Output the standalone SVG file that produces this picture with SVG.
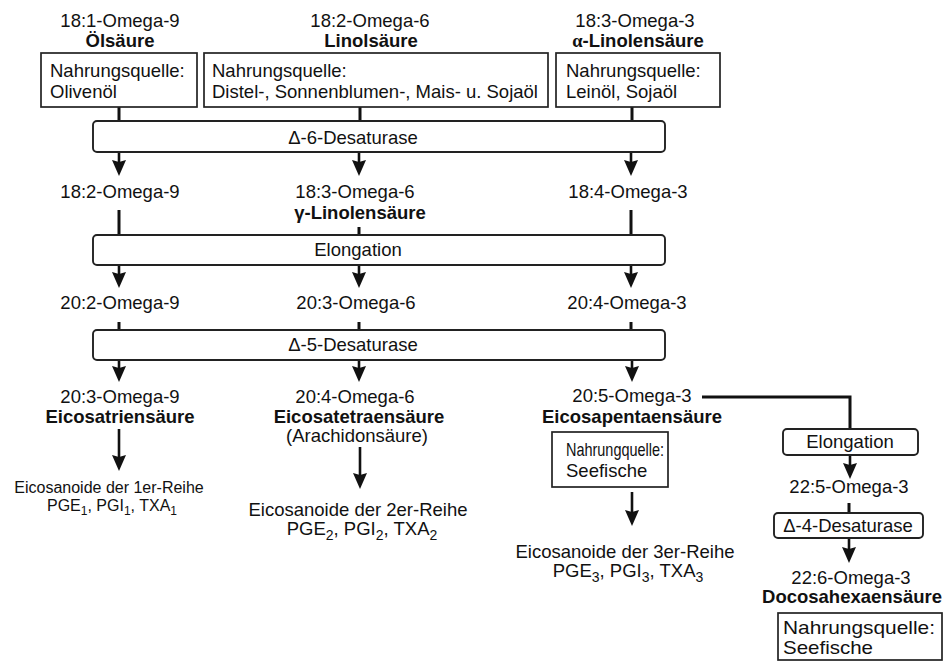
<svg xmlns="http://www.w3.org/2000/svg" width="943" height="666" viewBox="0 0 943 666">
  <defs>
    <marker id="head" viewBox="0 0 16 14" markerWidth="16" markerHeight="14" refX="5" refY="7" orient="auto" markerUnits="userSpaceOnUse">
      <path d="M0,0 L16,7 L0,14 L2,7 Z" fill="#111"/>
    </marker>
    <style>
      text { font-family: "Liberation Sans", Arial, Helvetica, sans-serif; font-size: 18.5px; fill: #111; }
      .c { text-anchor: middle; }
      .b { font-weight: bold; }
      .s { font-size: 16px; }
      .greek { font-family: "Liberation Serif", "Times New Roman", serif; }
      .src { fill: #fff; stroke: #222; stroke-width: 1.7; }
      .enz { fill: #fff; stroke: #222; stroke-width: 1.9; }
      .ln { stroke: #111; stroke-width: 3; fill: none; }
      .arr { stroke: #111; stroke-width: 2.6; fill: none; marker-end: url(#head); }
    </style>
  </defs>
  <rect width="943" height="666" fill="#fff"/>

  <!-- connectors -->
  <g id="connectors">
    <!-- source boxes to delta-6 desaturase -->
    <line class="ln" x1="119" y1="107" x2="119" y2="122"/>
    <line class="ln" x1="360" y1="107" x2="360" y2="122"/>
    <line class="ln" x1="632" y1="107" x2="632" y2="122"/>
    <!-- delta-6 desaturase products -->
    <line class="arr" x1="119" y1="152" x2="119" y2="165"/>
    <line class="arr" x1="359" y1="152" x2="359" y2="165"/>
    <line class="arr" x1="631" y1="152" x2="631" y2="165"/>
    <!-- into elongation -->
    <line class="ln" x1="119" y1="210" x2="119" y2="236"/>
    <line class="ln" x1="359" y1="227" x2="359" y2="236"/>
    <line class="ln" x1="631" y1="210" x2="631" y2="236"/>
    <!-- elongation products -->
    <line class="arr" x1="119" y1="265" x2="119" y2="277"/>
    <line class="arr" x1="359" y1="265" x2="359" y2="277"/>
    <line class="arr" x1="631" y1="265" x2="631" y2="277"/>
    <!-- into delta-5 desaturase -->
    <line class="ln" x1="119" y1="322" x2="119" y2="331"/>
    <line class="ln" x1="359" y1="322" x2="359" y2="331"/>
    <line class="ln" x1="631" y1="322" x2="631" y2="331"/>
    <!-- delta-5 desaturase products -->
    <line class="arr" x1="119" y1="360" x2="119" y2="371"/>
    <line class="arr" x1="359" y1="360" x2="359" y2="371"/>
    <line class="arr" x1="632" y1="360" x2="632" y2="371"/>
    <!-- to eicosanoids -->
    <line class="arr" x1="119" y1="429" x2="119" y2="460"/>
    <line class="arr" x1="360" y1="447" x2="360" y2="478"/>
    <line class="arr" x1="632" y1="492" x2="632" y2="515"/>
    <!-- EPA branch to DHA -->
    <polyline class="ln" points="702,397 850,397 850,430"/>
    <line class="arr" x1="850" y1="455" x2="850" y2="468"/>
    <line class="ln" x1="849" y1="503" x2="849" y2="514"/>
    <line class="arr" x1="849" y1="538" x2="849" y2="552"/>
  </g>

  <!-- omega-9 column -->
  <g id="oleic">
    <text class="c" x="120" y="27">18:1-Omega-9</text>
    <text class="c b" x="120" y="47">Ölsäure</text>
    <rect class="src" x="41" y="53" width="156" height="54"/>
    <text x="50" y="77">Nahrungsquelle:</text>
    <text x="50" y="98">Olivenöl</text>
  </g>
  <g id="omega9-18-2">
    <text class="c" x="120" y="198">18:2-Omega-9</text>
  </g>
  <g id="omega9-20-2">
    <text class="c" x="120" y="309">20:2-Omega-9</text>
  </g>
  <g id="eicosatrienoic">
    <text class="c" x="120" y="403">20:3-Omega-9</text>
    <text class="c b" x="120" y="423">Eicosatriensäure</text>
  </g>
  <g id="eicosanoids-1">
    <text class="c s" x="109" y="493">Eicosanoide der 1er-Reihe</text>
    <text class="c s" x="112" y="511">PGE<tspan font-size="12" dy="4">1</tspan><tspan dy="-4">, PGI</tspan><tspan font-size="12" dy="4">1</tspan><tspan dy="-4">, TXA</tspan><tspan font-size="12" dy="4">1</tspan></text>
  </g>

  <!-- omega-6 column -->
  <g id="linoleic">
    <text class="c" x="370" y="27">18:2-Omega-6</text>
    <text class="c b" x="371" y="47">Linolsäure</text>
    <rect class="src" x="204" y="53" width="344" height="54"/>
    <text x="212" y="77">Nahrungsquelle:</text>
    <text x="212" y="98">Distel-, Sonnenblumen-, Mais- u. Sojaöl</text>
  </g>
  <g id="gamma-linolenic">
    <text class="c" x="355" y="198">18:3-Omega-6</text>
    <text class="c b" x="360" y="219">γ-Linolensäure</text>
  </g>
  <g id="omega6-20-3">
    <text class="c" x="356" y="309">20:3-Omega-6</text>
  </g>
  <g id="arachidonic">
    <text class="c" x="355" y="403">20:4-Omega-6</text>
    <text class="c b" x="359" y="423">Eicosatetraensäure</text>
    <text class="c" x="357" y="442">(Arachidonsäure)</text>
  </g>
  <g id="eicosanoids-2">
    <text class="c" x="358" y="516">Eicosanoide der 2er-Reihe</text>
    <text class="c" x="362" y="535">PGE<tspan font-size="14" dy="5">2</tspan><tspan dy="-5">, PGI</tspan><tspan font-size="14" dy="5">2</tspan><tspan dy="-5">, TXA</tspan><tspan font-size="14" dy="5">2</tspan></text>
  </g>

  <!-- omega-3 column -->
  <g id="alpha-linolenic">
    <text class="c" x="635" y="27">18:3-Omega-3</text>
    <text class="c b" x="638" y="47"><tspan class="greek">α</tspan>-Linolensäure</text>
    <rect class="src" x="556" y="53" width="164" height="54"/>
    <text x="566" y="77">Nahrungsquelle:</text>
    <text x="566" y="98">Leinöl, Sojaöl</text>
  </g>
  <g id="omega3-18-4">
    <text class="c" x="628" y="198">18:4-Omega-3</text>
  </g>
  <g id="omega3-20-4">
    <text class="c" x="627" y="309">20:4-Omega-3</text>
  </g>
  <g id="epa">
    <text class="c" x="632" y="402">20:5-Omega-3</text>
    <text class="c b" x="632" y="423">Eicosapentaensäure</text>
    <rect class="src" x="552" y="432" width="116" height="55"/>
    <text x="566" y="456" textLength="98" lengthAdjust="spacingAndGlyphs">Nahrungquelle:</text>
    <text x="566" y="477">Seefische</text>
  </g>
  <g id="eicosanoids-3">
    <text class="c" x="625" y="558">Eicosanoide der 3er-Reihe</text>
    <text class="c" x="628" y="577">PGE<tspan font-size="14" dy="5">3</tspan><tspan dy="-5">, PGI</tspan><tspan font-size="14" dy="5">3</tspan><tspan dy="-5">, TXA</tspan><tspan font-size="14" dy="5">3</tspan></text>
  </g>
  <g id="dpa">
    <text class="c" x="849" y="493">22:5-Omega-3</text>
  </g>
  <g id="dha">
    <text class="c" x="851" y="584">22:6-Omega-3</text>
    <text class="c b" x="852" y="603">Docosahexaensäure</text>
    <rect class="src" x="778" y="613" width="164" height="47"/>
    <text x="783" y="634" textLength="152" lengthAdjust="spacingAndGlyphs">Nahrungsquelle:</text>
    <text x="783" y="654" textLength="90" lengthAdjust="spacingAndGlyphs">Seefische</text>
  </g>

  <!-- enzyme steps -->
  <g id="delta6-desaturase">
    <rect class="enz" x="93" y="121" width="572" height="31" rx="4"/>
    <text class="c" x="353" y="144">Δ-6-Desaturase</text>
  </g>
  <g id="elongation">
    <rect class="enz" x="93" y="235" width="572" height="30" rx="4"/>
    <text class="c" x="358" y="256">Elongation</text>
  </g>
  <g id="delta5-desaturase">
    <rect class="enz" x="93" y="330" width="572" height="30" rx="4"/>
    <text class="c" x="353" y="351">Δ-5-Desaturase</text>
  </g>
  <g id="elongation-2">
    <rect class="enz" x="783" y="429" width="135" height="26" rx="4"/>
    <text class="c" x="850" y="448">Elongation</text>
  </g>
  <g id="delta4-desaturase">
    <rect class="enz" x="774" y="513" width="149" height="25" rx="4"/>
    <text class="c" x="848" y="532">Δ-4-Desaturase</text>
  </g>
</svg>
